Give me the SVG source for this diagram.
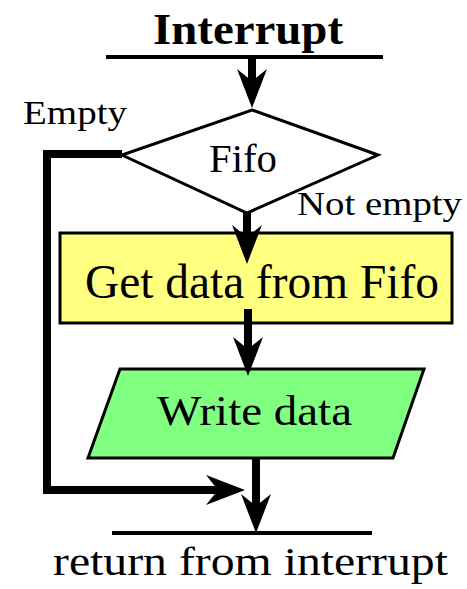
<svg xmlns="http://www.w3.org/2000/svg" xmlns:xlink="http://www.w3.org/1999/xlink" width="467" height="589" viewBox="0 0 467 589">
  <style>
    text { font-family: "Liberation Serif", "Times New Roman", serif; fill: #000; }
    .title { font-weight: bold; }
    .shape { stroke: #000; stroke-width: 3; stroke-linejoin: miter; }
    .bar { stroke: #000; stroke-width: 4; fill: none; }
    .shaft { stroke: #000; stroke-width: 8; fill: none; stroke-linejoin: miter; }
  </style>
  <defs>
    <!-- barbed arrowhead, tip at origin, pointing along +x -->
    <path id="head" d="M0,0 L-39,-15 L-27,0 L-39,15 Z" fill="#000"/>
  </defs>
  <rect width="467" height="589" fill="#fff"/>

  <g id="start">
    <text class="title" x="153" y="44" font-size="44" textLength="190" lengthAdjust="spacingAndGlyphs">Interrupt</text>
    <line class="bar" x1="106" y1="57" x2="383" y2="57"/>
  </g>

  <g id="fifo-check">
    <polygon class="shape" fill="#fff" points="252,110 378,155 247,213 122,155"/>
    <text x="209" y="172" font-size="40" textLength="68" lengthAdjust="spacingAndGlyphs">Fifo</text>
  </g>

  <g id="get-data">
    <rect class="shape" fill="#ffff80" x="60" y="233" width="392" height="90"/>
    <text x="85" y="298" font-size="48" textLength="354" lengthAdjust="spacingAndGlyphs">Get data from Fifo</text>
  </g>

  <g id="write-data">
    <polygon class="shape" fill="#80ff80" points="120,369 424,369 393,458 88,458"/>
    <text x="157" y="425" font-size="42" textLength="195" lengthAdjust="spacingAndGlyphs">Write data</text>
  </g>

  <g id="end">
    <line class="bar" x1="112" y1="533" x2="372" y2="533"/>
    <text x="53" y="575" font-size="41" textLength="395" lengthAdjust="spacingAndGlyphs">return from interrupt</text>
  </g>

  <g id="connectors">
    <!-- entry -->
    <line class="shaft" x1="252" y1="57" x2="252" y2="85"/>
    <use xlink:href="#head" transform="translate(252,108) rotate(90)"/>
    <!-- not empty -->
    <line class="shaft" x1="247" y1="213" x2="247" y2="240"/>
    <use xlink:href="#head" transform="translate(247,264) rotate(90)"/>
    <!-- get data to write -->
    <line class="shaft" x1="248" y1="309" x2="248" y2="350"/>
    <use xlink:href="#head" transform="translate(248,376) rotate(90)"/>
    <!-- write to return -->
    <line class="shaft" x1="256" y1="458" x2="256" y2="510"/>
    <use xlink:href="#head" transform="translate(256,533) rotate(90)"/>
    <!-- empty loop -->
    <polyline class="shaft" points="122,154 47,154 47,490 220,490"/>
    <use xlink:href="#head" transform="translate(245,490)"/>
    <text x="23" y="124" font-size="33" textLength="104" lengthAdjust="spacingAndGlyphs">Empty</text>
    <text x="297" y="215" font-size="33" textLength="165" lengthAdjust="spacingAndGlyphs">Not empty</text>
  </g>
</svg>
